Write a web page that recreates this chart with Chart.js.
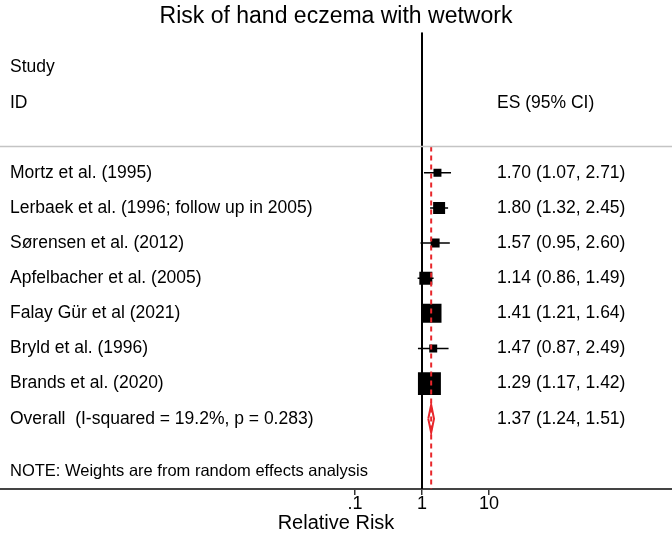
<!DOCTYPE html>
<html>
<head>
<meta charset="utf-8">
<title>Risk of hand eczema with wetwork</title>
<script src="https://cdn.jsdelivr.net/npm/chart.js@4.4.1/dist/chart.umd.min.js"></script>
<style>
  body { margin: 0; background: #fff; }
  canvas { display: block; }
</style>
</head>
<body>
<canvas id="chart" width="672" height="541"></canvas>
<script>
const studies = [
  'Mortz et al. (1995)',
  'Lerbaek et al. (1996; follow up in 2005)',
  'Sørensen et al. (2012)',
  'Apfelbacher et al. (2005)',
  'Falay Gür et al (2021)',
  'Bryld et al. (1996)',
  'Brands et al. (2020)'
];
const es = [1.70, 1.80, 1.57, 1.14, 1.41, 1.47, 1.29];
const lower = [1.07, 1.32, 0.95, 0.86, 1.21, 0.87, 1.17];
const upper = [2.71, 2.45, 2.60, 1.49, 1.64, 2.49, 1.42];
// % weights (random effects)
const weights = [4.5, 10.2, 5.7, 12.0, 25.6, 4.5, 37.5];
const overall = [1.37, 1.24, 1.51];
const overallLabel = 'Overall  (I-squared = 19.2%, p = 0.283)';
const note = 'NOTE: Weights are from random effects analysis';
const tickValues = [0.1, 1, 10];
const tickLabels = ['.1', '1', '10'];

const FONT = '"Liberation Sans", Arial, sans-serif';
const RED = '#e8262b';
const X_MIN = 5.03e-7, X_MAX = 5383;
const overallRow = studies.length;

const fmt = (v, l, h) => v.toFixed(2) + ' (' + l.toFixed(2) + ', ' + h.toFixed(2) + ')';

// confidence interval whiskers, one small line per study
const ciSets = studies.map((s, i) => ({
  data: [{ x: lower[i], y: i }, { x: upper[i], y: i }],
  showLine: true,
  borderColor: '#000',
  borderWidth: 1.5,
  pointRadius: 0
}));

const textColumns = {
  id: 'textColumns',
  afterDatasetsDraw(chart) {
    const { ctx, scales: { y } } = chart;
    ctx.save();
    ctx.fillStyle = '#000';
    ctx.textBaseline = 'middle';
    ctx.textAlign = 'left';
    ctx.font = '17.5px ' + FONT;
    ctx.fillText('Study', 10, y.getPixelForValue(-3));
    ctx.fillText('ID', 10, y.getPixelForValue(-1.97));
    ctx.fillText('ES (95% CI)', 497, y.getPixelForValue(-1.97));
    studies.forEach((s, i) => {
      ctx.fillText(s, 10, y.getPixelForValue(i));
      ctx.fillText(fmt(es[i], lower[i], upper[i]), 497, y.getPixelForValue(i));
    });
    ctx.fillText(overallLabel, 10, y.getPixelForValue(overallRow));
    ctx.fillText(fmt(overall[0], overall[1], overall[2]), 497, y.getPixelForValue(overallRow));
    ctx.font = '16.5px ' + FONT;
    ctx.fillText(note, 10, y.getPixelForValue(8.5));
    ctx.restore();
  }
};

const ctx = document.getElementById('chart').getContext('2d');

const chart = new Chart(ctx, {
  type: 'scatter',
  data: {
    datasets: [
      // header separator
      {
        data: [{ x: X_MIN, y: -0.75 }, { x: X_MAX, y: -0.75 }],
        showLine: true, borderColor: '#c4c4c4', borderWidth: 1.5, pointRadius: 0
      },
      // line of no effect
      {
        data: [{ x: 1, y: -4 }, { x: 1, y: 9 }],
        showLine: true, borderColor: '#000', borderWidth: 2, pointRadius: 0
      },
      // overall effect, dashed
      {
        data: [{ x: overall[0], y: -0.75 }, { x: overall[0], y: 9 }],
        showLine: true, borderColor: RED, borderWidth: 2, borderDash: [5, 4], pointRadius: 0
      },
      ...ciSets,
      // study boxes, area proportional to weight
      {
        data: es.map((v, i) => ({ x: v, y: i })),
        pointStyle: 'rect',
        pointRadius: weights.map(w => 3.75 * Math.sqrt(w) / Math.SQRT2),
        backgroundColor: '#000',
        borderWidth: 0
      },
      // overall diamond
      {
        data: [
          { x: overall[1], y: overallRow },
          { x: overall[0], y: overallRow - 0.4 },
          { x: overall[2], y: overallRow },
          { x: overall[0], y: overallRow + 0.4 },
          { x: overall[1], y: overallRow }
        ],
        showLine: true, borderColor: RED, borderWidth: 2, pointRadius: 0, tension: 0
      }
    ]
  },
  options: {
    responsive: false,
    animation: false,
    layout: { padding: 0, autoPadding: false },
    plugins: {
      legend: { display: false },
      tooltip: { enabled: false },
      title: {
        display: true,
        text: 'Risk of hand eczema with wetwork',
        color: '#000',
        font: { family: FONT, size: 23, weight: 'normal', lineHeight: 1.1 },
        padding: { top: 4, bottom: 3 }
      }
    },
    scales: {
      x: {
        type: 'logarithmic',
        min: X_MIN,
        max: X_MAX,
        bounds: 'data',
        afterBuildTicks: (axis) => { axis.ticks = tickValues.map(v => ({ value: v })); },
        ticks: {
          color: '#000',
          font: { family: FONT, size: 18, lineHeight: 1.0 },
          padding: 0,
          maxRotation: 0,
          autoSkip: false,
          callback: (v, i) => tickLabels[i]
        },
        grid: { drawOnChartArea: false, drawTicks: true, tickLength: 6, color: '#333', lineWidth: 1.5 },
        border: { display: true, color: '#444', width: 2 },
        title: {
          display: true,
          text: 'Relative Risk',
          color: '#000',
          font: { family: FONT, size: 20, lineHeight: 1.0 },
          padding: { top: 0, bottom: 8 }
        }
      },
      y: {
        type: 'linear',
        min: -4,
        max: 9,
        reverse: true,
        display: false
      }
    }
  },
  plugins: [textColumns]
});
</script>
</body>
</html>
